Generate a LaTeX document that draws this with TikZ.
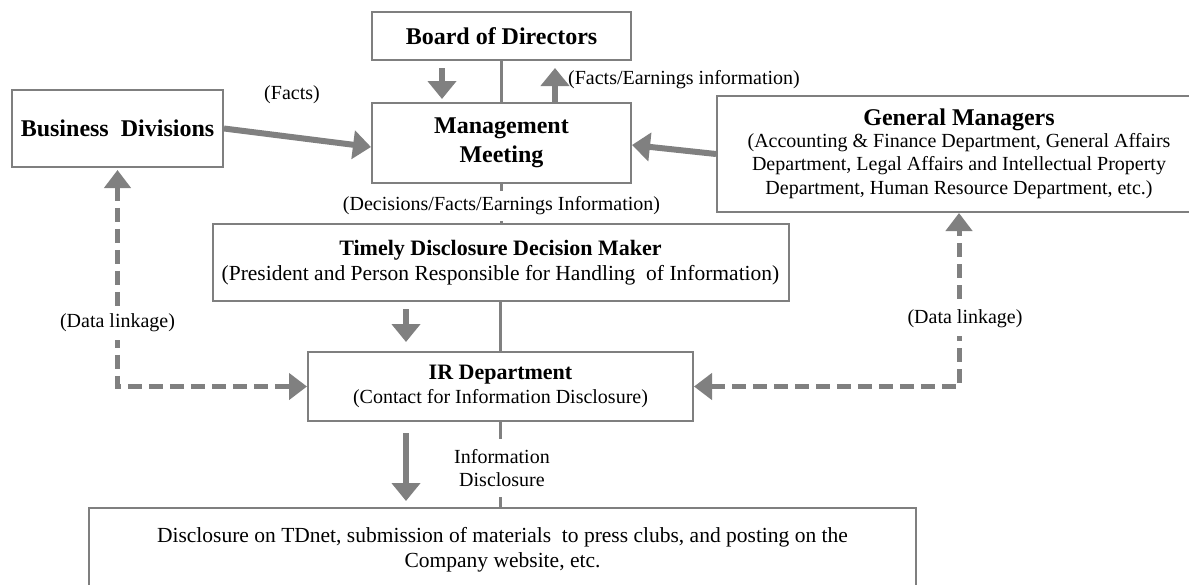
\documentclass[tikz,border=0pt]{standalone}
\usepackage{fontspec}
\setmainfont{Liberation Serif}
\usetikzlibrary{arrows.meta}
\definecolor{lg}{HTML}{808080}
\definecolor{bx}{HTML}{7F7F7F}
\newcommand\reg{\fontsize{20}{23.5}\selectfont}
\newcommand\regl{\fontsize{21.5}{25}\selectfont}
\newcommand\bld{\fontsize{24}{30}\selectfont\bfseries}
\newcommand\bldb{\fontsize{22}{26}\selectfont\bfseries}
\tikzset{
 box/.style={draw=bx, line width=2pt, fill=white, inner sep=0pt, align=center, font=\reg},
 blk/.style={draw=lg, line width=6pt, -{Triangle[width=28pt,length=18pt]}},
 dsh/.style={draw=lg, line width=5pt, dash pattern=on 14pt off 7pt,
   {Triangle[width=26pt,length=18pt]}-{Triangle[width=26pt,length=18pt]}},
 conn/.style={draw=lg, line width=2.5pt},
 lbl/.style={font=\reg, inner sep=1pt, align=center},
}
\begin{document}
\begin{tikzpicture}[x=1pt,y=-1pt]
\useasboundingbox (0,0) rectangle (1189,584);
\clip (0,0) rectangle (1189,584);
% boxes
\node[box, minimum width=259pt, minimum height=48pt] (board) at (501.5,36) {\bld Board of Directors};
\node[box, minimum width=259pt, minimum height=80pt] (mm) at (501.5,143) {\bld Management\\[5pt]\bld Meeting};
\node[box, minimum width=484pt, minimum height=116pt] (gm) at (959,154) {{\bld General Managers}\\[-2pt](Accounting \& Finance Department, General Affairs\\Department, Legal Affairs and Intellectual Property\\Department, Human Resource Department, etc.)};
\node[box, minimum width=211pt, minimum height=77pt] (bd) at (117.5,128.5) {\bld Business\ \ Divisions};
\node[box, minimum width=576pt, minimum height=77pt, font=\regl] (tdm) at (500.5,262.5) {{\bldb Timely Disclosure Decision Maker}\\(President and Person Responsible for Handling\ \ of Information)};
\node[box, minimum width=385pt, minimum height=69pt] (ir) at (500.5,386.5) {{\bldb IR Department}\\(Contact for Information Disclosure)};
\node[box, minimum width=827pt, minimum height=84pt, font=\regl] (bot) at (502.5,550) {Disclosure on TDnet, submission of materials\ \ to press clubs, and posting on the\\Company website, etc.};
% board <-> management meeting
\draw[conn] (board.south) -- (mm.north);
\draw[blk] ([xshift=-59.5pt,yshift=-7pt]board.south) -- ([xshift=-59.5pt,yshift=3pt]mm.north);
\draw[blk] ([xshift=53.5pt]mm.north) -- ([xshift=53.5pt,yshift=-7pt]board.south);
\node[lbl, anchor=west] (fe) at (567,80) {(Facts/Earnings information)};
% side arrows into management meeting
\draw[blk] (bd.east) -- ([yshift=-4pt]mm.west);
\node[lbl] (facts) at (292,95) {(Facts)};
\draw[blk] (gm.west) -- ([yshift=-2pt]mm.east);
% management meeting -> timely disclosure
\draw[conn] (mm.south) -- (mm.south |- tdm.north);
\node[lbl, fill=white, inner ysep=5.5pt] (dfe) at (501.5,206) {(Decisions/Facts/Earnings Information)};
% timely disclosure -> IR
\draw[conn] (tdm.south) -- (ir.north);
\draw[blk] ([xshift=-94.5pt,yshift=-7pt]tdm.south) -- ([xshift=-94.5pt,yshift=9pt]ir.north);
% IR -> bottom
\draw[conn] (ir.south) -- (ir.south |- bot.north);
\draw[blk] ([xshift=-94.5pt,yshift=-11pt]ir.south) -- ([xshift=-96.5pt,yshift=6pt]bot.north);
\node[lbl, fill=white, inner ysep=10pt] (info) at (502,468) {Information\\Disclosure};
% data linkage
\draw[dsh, shorten <=2pt] (bd.south) |- (ir.west);
\node[lbl, fill=white, inner ysep=8pt] (dl1) at (117.5,323) {(Data linkage)};
\draw[dsh] (ir.east) -| (gm.south);
\node[lbl, fill=white, inner ysep=8pt] (dl2) at (965,319) {(Data linkage)};
\end{tikzpicture}
\end{document}
